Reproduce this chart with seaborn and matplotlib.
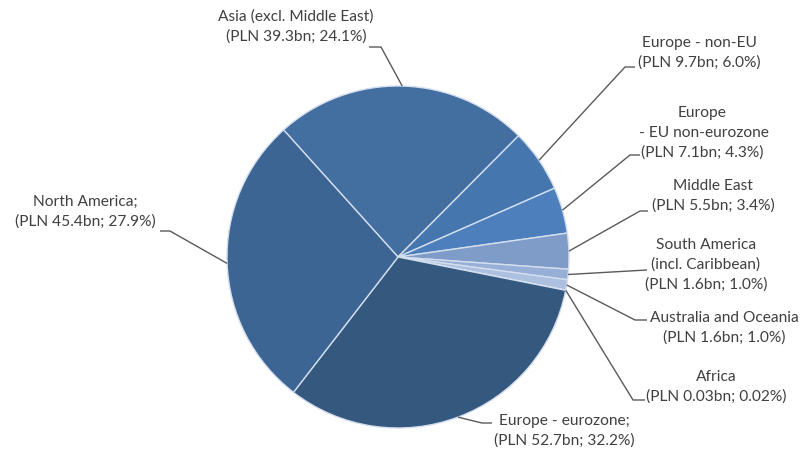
import numpy as np
import matplotlib
matplotlib.use("Agg")
import matplotlib.pyplot as plt
import seaborn as sns

# ---- data ----
categories = ["Asia (excl. Middle East)", "Europe - non-EU", "Europe\n - EU non-eurozone",
              "Middle East", "South America\n(incl. Caribbean)", "Australia and Oceania",
              "Africa", "Europe - eurozone;", "North America;"]
values_bn = [39.3, 9.7, 7.1, 5.5, 1.6, 1.6, 0.03, 52.7, 45.4]
value_labels = ["39.3", "9.7", "7.1", "5.5", "1.6", "1.6", "0.03", "52.7", "45.4"]
pct_labels = ["24.1", "6.0", "4.3", "3.4", "1.0", "1.0", "0.02", "32.2", "27.9"]
colors = ["#426ea0", "#4676ae", "#4d7fbc", "#7f9cc8", "#97aed6", "#adc0e0",
          "#c4d2ea", "#35587f", "#3c6594"]

# ---- layout (pixel coords, y down) ----
W, H = 807, 457
center_px = (398, 257)
radius = 171
# text anchor (x, y), horizontal alignment
text_pos = [(296, 27, "center"), (699, 53, "center"), (702, 133, "center"),
            (713, 196, "center"), (706, 265, "center"), (724, 328, "center"),
            (716, 387, "center"), (564, 431, "center"), (85, 212, "center")]
# leader elbow and end points
elbows = [(381, 47), (625, 67), (630, 155), (640, 211), (647, 270),
          (635, 320), (633, 400), (482, 423), (170, 231)]
ends = [(369, 47), (635, 67), (640, 155), (648, 211), (647, 270),
        (647, 320), (645, 400), (492, 423), (160, 231)]

sns.set_theme(style="white")
plt.rcParams["font.family"] = ["Lato", "DejaVu Sans"]

fig = plt.figure(figsize=(W / 100, H / 100), dpi=100)
ax = fig.add_axes([0, 0, 1, 1])

def fy(y):
    return H - y

cx, cy = center_px[0], fy(center_px[1])
wedges, _ = ax.pie(values_bn, colors=colors, startangle=132, counterclock=False,
                   center=(cx, cy), radius=radius, frame=True,
                   wedgeprops=dict(edgecolor="#d3deee", linewidth=1.0))
ax.set_xlim(0, W)
ax.set_ylim(0, H)
ax.set_aspect("equal")
ax.axis("off")

line_col = "#5a5a5a"
text_col = "#404040"
for i, w in enumerate(wedges):
    mid = np.deg2rad((w.theta1 + w.theta2) / 2)
    ax_ = cx + radius * np.cos(mid)
    ay_ = cy + radius * np.sin(mid)
    ex, ey = elbows[i]
    nx, ny = ends[i]
    ax.plot([ax_, ex, nx], [ay_, fy(ey), fy(ny)], color=line_col, lw=1.0,
            solid_capstyle="butt", zorder=3)
    tx, ty, ha = text_pos[i]
    label = f"{categories[i]}\n(PLN {value_labels[i]}bn; {pct_labels[i]}%)"
    ax.text(tx, fy(ty), label, ha=ha, va="center", multialignment=ha,
            fontsize=11.2, color=text_col, linespacing=1.5)

fig.savefig("out.png", dpi=100, facecolor="white")
